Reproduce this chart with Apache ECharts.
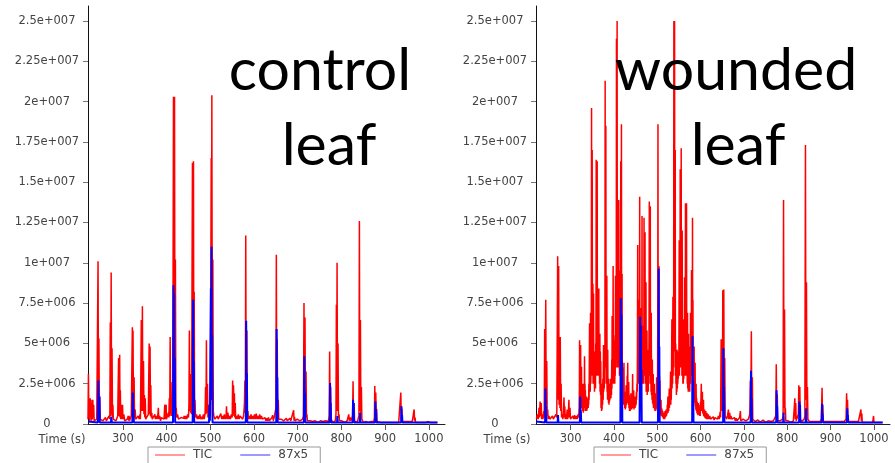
<!DOCTYPE html>
<html>
<head>
<meta charset="utf-8">
<script src="https://cdn.jsdelivr.net/npm/echarts@6/dist/echarts.min.js"></script>
<style>
  html, body { margin: 0; padding: 0; background: #fff; }
  #container { width: 895px; height: 463px; }
</style>
</head>
<body>
<div id="container"></div>
<script>
// values are in millions of counts, [time (s), intensity]
var ticControl = [
  [220,0.3],[221,3.1],[222,0.4],[223,1.5],[224,0.2],[225,1.6],[226,0.5],[227,0.8],[228,0.2],[229,1.5],[230,0.3],[231,1.5],[232,0.4],[233,1.2],[234,0.2],[236,0.3],[238,0.2],[240,0.3],[242,0.4],
  [243,10.1],[244,0.6],[245,5.3],[246,0.5],[247,1.7],[248,0.3],[250,0.2],[252,0.4],[254,0.2],[256,0.3],[258,0.2],[260,0.4],[262,0.2],[264,0.3],[266,0.2],[268,0.5],[270,0.3],
  [271,6.3],[272,0.5],[273,9.4],[274,0.6],[275,4.7],[276,0.4],[277,1.2],[278,0.3],[280,0.2],[282,0.4],[284,0.2],[286,0.3],[288,0.5],
  [290,4.1],[291,0.5],[292.5,4.3],[293.2,0.4],[294,2.1],[295,0.3],[297,1.2],[298,0.3],[299,1.2],[300,0.3],[302,0.6],[304,0.2],[306,0.3],[308,0.2],[310,0.3],[312,0.5],[313,0.2],[314,0.5],[315,0.2],[317,0.3],[319,0.5],
  [321.5,6.0],[322.3,0.5],[323,5.8],[324,0.6],[325.5,2.9],[326.5,0.4],[328,0.9],[329,0.3],[331,0.4],[333,0.3],[335,0.5],[337,0.3],[339,0.6],[340,0.3],
  [342,6.45],[343,0.8],[344.5,7.3],[345.5,0.8],[347,3.9],[348,0.6],[349,1.8],[350,0.4],[351,1.6],[352,0.3],[354,0.4],[356,0.3],[358,0.6],
  [360,5.0],[361,0.6],[362,4.8],[363,0.5],[363.8,2.4],[364.5,0.4],[366,0.7],[367,0.3],[369,0.4],[371,0.3],[373,0.6],[374,0.3],[376,0.5],[378,0.3],[380,0.6],[381,1.0],[382,0.3],[384,0.5],[386,0.2],[388,0.4],[390,0.3],[392,0.5],[394,0.3],
  [395.7,1.2],[396.5,0.3],[398.8,1.2],[399.5,0.3],[401,0.4],[403,0.3],[404,0.7],[405,0.4],[406,1.6],[407,0.5],[408,5.4],[409,0.6],[410,2.6],[411,0.5],[413,0.8],[414,0.6],
  [415.6,20.3],[416.4,1.0],[418,20.3],[419,1.2],[420,10.2],[421,0.8],[422,1.0],[423,0.4],[425,0.6],[427,0.3],[429,0.4],[431,0.3],[433,0.4],[435,0.3],[437,0.5],[439,0.35],[440,0.5],[442,0.3],[444,0.5],[446,0.3],[448,0.6],[449,0.65],[450,0.4],[451,1.2],
  [452,5.8],[453,0.8],[454,3.1],[455,0.7],[456,1.5],[457,0.6],[459,16.2],[460,1.5],[461.4,16.3],[462.2,1.2],[463,8.2],[464,0.8],[465,1.5],[466,0.4],[468,0.6],[470,0.3],[472,0.5],[474,0.3],[476,0.6],[478,0.3],[480,0.45],[482,0.3],[484,0.6],[486,0.3],[488,0.7],
  [489,2.3],[490,0.6],[491,5.2],[492,0.7],[493.5,2.5],[494.5,0.4],[496,0.6],[497,1.2],[498,0.5],[499,1.0],[500,0.6],[502,16.5],[502.7,1.5],[503.4,20.4],[504.5,2.0],[505.7,10.2],[506.7,0.8],
  [508,0.5],[510,0.3],[512,0.4],[514,0.3],[516,0.5],[518,0.3],[520,0.4],[522,0.3],[524,0.65],[526,0.3],[528,0.5],[530,0.3],[532,0.6],[534,0.3],[536,0.5],[537,1.1],[538,0.3],[540,0.7],[542,0.3],[544,0.5],[546,0.3],[548,0.6],[550,0.4],
  [551,2.7],[552,0.5],[553,2.4],[554,0.6],[555,1.9],[556,0.4],[557,1.3],[558,0.3],[560,0.5],[562,0.3],[564,0.6],[566,0.3],[568,0.5],[570,0.4],[572,0.6],[574,0.3],[576,0.5],[578,1.2],
  [579,2.7],[580,0.7],[581,11.7],[582,1.0],[583.6,5.8],[584.5,0.6],[586,0.8],[587,0.3],[589,0.5],[591,0.3],[593,0.6],[595,0.3],[597,0.5],[599,0.3],[601,0.6],[603,0.3],[605,0.65],[607,0.3],[609,0.5],[611,0.3],[613,0.6],[615,0.3],[617,0.5],[619,0.3],
  [621,0.4],[623,0.2],[625,0.4],[627,0.2],[629,0.35],[631,0.2],[633,0.4],[635,0.2],[637,0.3],[639,0.2],[641,0.4],[642.5,0.55],[644,0.2],[646,0.4],[648,0.3],[650,1.0],
  [651,10.5],[652,0.8],[653,5.25],[654,0.6],[655.5,1.5],[656.5,0.3],[658,0.4],[660,0.2],[662,0.3],[664,0.2],[666,0.35],[668,0.2],[670,0.3],[672,0.2],[674,0.35],[676,0.2],[678,0.3],[680,0.2],[682,0.35],[684,0.2],[686,0.3],[688,0.2],
  [690.6,0.85],[691.5,0.2],[692.5,0.45],[693.5,0.2],[695,0.3],[697,0.2],[699,0.3],[701,0.2],[703,0.3],[705,0.2],[707,0.3],[709,0.2],[711,0.3],[713,0.5],
  [714.3,7.5],[715.3,0.8],[716.6,6.6],[717.6,0.7],[719,3.25],[720,0.4],[721,0.6],[722,0.2],[724,0.25],[726,0.15],[728,0.2],[730,0.1],[732,0.2],[734,0.15],[736,0.25],[738,0.1],[740,0.2],[742,0.15],[744,0.2],[746,0.1],[748,0.2],[750,0.15],[752,0.2],[754,0.1],[756,0.2],[758,0.15],[760,0.25],[762,0.1],[764,0.2],[766,0.15],[768,0.2],[770,0.15],[772,0.5],
  [773,4.5],[774,0.5],[775.4,2.3],[776.5,0.3],[778,0.2],[780,0.1],[782,0.2],[784,0.15],[786,0.2],[787.5,0.6],[788.4,7.4],[789.2,0.8],[790,10.0],[791,0.8],[792.2,5.0],[793.2,0.4],[794.5,0.6],[795.5,0.2],
  [797,0.2],[799,0.1],[801,0.2],[803,0.1],[805,0.2],[807,0.1],[809,0.2],[811,0.15],[813,0.2],[815,0.3],[816.7,0.6],[818,0.2],[820,0.4],[822,0.2],[824,0.3],[825.5,0.5],[826.6,2.65],[827.6,0.3],[829,1.3],[830,0.2],[832,0.15],[834,0.2],[836,0.1],[838,0.2],[840,0.5],
  [841.1,12.6],[842,0.8],[843.4,6.45],[844.4,0.6],[845.7,2.3],[846.7,0.3],[848,0.2],[850,0.1],[852,0.15],[854,0.1],[856,0.15],[858,0.1],[860,0.15],[862,0.1],[864,0.15],[866,0.1],[868,0.15],[870,0.1],[872,0.2],[874,0.15],
  [875.5,0.4],[876.3,2.35],[877.3,0.4],[878.6,1.95],[879.5,0.3],[880.5,0.95],[881.5,0.15],[883,0.1],[886,0.15],[889,0.1],[892,0.15],[895,0.1],[898,0.15],[901,0.1],[904,0.15],[907,0.1],[910,0.15],[913,0.1],[916,0.15],[919,0.1],[922,0.15],[925,0.1],[928,0.15],[931,0.1],[934,0.2],
  [935.9,1.95],[937,0.3],[938.2,0.95],[939.2,0.15],[941,0.1],[944,0.15],[947,0.1],[950,0.15],[953,0.1],[956,0.15],[959,0.1],[962,0.15],[965,0.2],[966.4,0.9],[967.4,0.2],[968.6,0.4],[969.5,0.1],
  [972,0.15],[975,0.1],[978,0.15],[981,0.1],[984,0.15],[987,0.1],[990,0.15],[993,0.1],[996,0.1],[997.7,0.15],[999,0.1],[1003,0.1],[1008,0.1],[1013,0.1],[1019,0.1]
];

var ion87Control = [
  [220,0.15],[242.5,0.1],[243.7,2.7],[244.8,0.3],[246,1.7],[247,0.1],[272.5,0.1],[273.5,0.45],[274.5,0.1],
  [321.5,0.1],[322.4,1.95],[323.3,0.2],[324.2,0.95],[325,0.1],[414.5,0.1],[415.6,8.6],[416.3,1.0],[417,8.1],[418,1.0],[418.6,4.1],[419.5,0.1],
  [459.5,0.1],[460,2.8],[460.6,7.7],[461.3,1.0],[462,3.9],[463,0.1],[497,0.1],[498,1.2],[499,0.2],[500.5,0.1],[501.2,8.4],[502,1.5],[502.7,11.0],[503.4,1.5],[504,5.5],[505,0.1],
  [581,0.1],[581.5,1.7],[582,6.4],[582.8,1.0],[583.6,3.15],[584.5,0.1],[650.8,0.1],[651.7,5.9],[652.4,0.8],[653.2,2.9],[654,0.1],
  [714,0.1],[715,4.2],[715.8,0.8],[716.6,1.9],[717.5,0.1],[773.2,0.1],[774,2.55],[774.7,0.4],[775.4,1.3],[776.2,0.1],[790,0.1],[790.7,0.5],[791.4,0.1],
  [825.8,0.1],[826.6,1.5],[827.3,0.5],[828,1.3],[828.8,0.1],[842,0.1],[842.7,0.7],[843.4,0.1],[877,0.1],[877.8,1.4],[878.5,0.4],[879.3,0.9],[880,0.1],
  [936.6,0.1],[937.4,1.1],[938,0.4],[938.8,0.55],[939.5,0.1],[1020,0.1]
];

var ticWounded = [
  [221,0.3],[223,0.6],[225,0.3],[227,1.0],[228,0.4],[229.5,1.4],[230.5,0.5],[232,1.3],[233,0.3],[235,0.6],[236,0.3],[238,0.8],[239,0.4],
  [240,5.9],[241,1.0],[242.5,7.7],[243.5,1.2],[244.8,3.9],[245.8,0.5],[247,0.9],[248,0.3],[250,0.5],[252,0.3],[254,0.4],[256,0.3],[258,0.5],[260,0.3],[262,0.4],[264,0.3],[266,0.6],[268,0.4],
  [270,10.4],[271,1.5],[272.3,9.8],[273.3,1.2],[274.6,4.8],[275.3,1.0],[276,5.4],[277,0.8],[278,2.5],[279,0.4],[281,0.6],[282,0.3],[283.5,0.9],[284.6,1.65],[285.5,0.4],[286.5,1.1],[287.5,0.3],[289,0.6],[290,0.3],[292,0.9],[293,0.3],[294.5,0.6],[296,1.5],[297,0.4],[298.5,1.0],[299.5,0.3],
  [301,0.4],[303,0.2],[305,0.5],[307,0.3],[309,0.55],[311,0.3],[313,0.5],[315,0.3],[317,0.6],[318.5,0.4],
  [319.5,1.0],[320.1,2.0],[320.6,5.2],[321.1,1.2],[321.6,2.5],[322.2,1.0],[323,4.9],[323.5,1.5],[324.1,3.0],[324.6,1.2],[325,3.55],[325.6,1.0],[326.2,2.0],[326.8,0.9],[327.5,2.5],[328,0.8],[328.6,1.5],[329.2,0.7],[329.8,1.8],[330.4,0.8],
  [331,2.5],[331.5,1.2],[332,4.2],[332.5,1.0],[333.1,2.5],[333.6,1.0],[334,2.1],[334.6,0.8],[335.2,1.5],[335.8,0.9],[336.3,1.7],[336.9,0.8],[337.5,1.4],[338.1,0.9],[338.7,1.6],[339.3,1.0],[339.8,1.4],
  [340.5,1.0],[341,1.7],[341.5,1.2],[342,2.5],[342.5,1.5],[343,3.5],[343.6,6.25],[344.1,2.0],[344.6,4.5],[345.2,2.0],[345.9,6.9],[346.4,2.5],[346.9,4.0],[347.5,3.0],[348.2,19.6],[348.8,3.5],[349.2,7.5],[349.7,17.0],[350.2,3.0],[350.7,6.0],
  [351.3,8.7],[351.8,2.5],[352.3,5.0],[352.8,8.1],[353.3,2.5],[353.9,4.0],[354.5,3.5],[355,2.0],[355.6,4.5],[356.2,2.5],[356.8,3.8],[357.3,2.2],[357.8,5.0],[358.4,3.0],[358.9,16.4],[359.4,3.5],[359.9,6.5],[360.5,3.0],
  [361.2,16.3],[361.7,3.5],[362.2,7.0],[362.8,8.2],[363.3,3.0],[363.9,6.0],[364.4,3.0],[365,8.4],[365.5,3.0],[366,5.5],[366.7,2.5],[367.4,5.6],[367.9,2.0],[368.5,4.5],[369,1.8],[369.5,3.9],[370.1,1.0],[370.7,1.8],
  [371.3,0.8],[371.9,1.5],[372.5,0.9],[373.1,2.5],[373.7,1.2],[374.3,2.8],[375,1.5],[375.8,4.9],[376.3,2.0],[376.9,3.5],[377.5,2.2],[378,4.0],[378.6,2.5],[379.1,5.0],[379.6,21.3],[380.1,4.0],[380.7,8.0],
  [381.2,18.5],[381.7,3.5],[382.3,6.0],[382.9,2.5],[383.5,9.2],[384,2.0],[384.6,3.5],[385.1,1.5],[385.6,4.6],[386.2,1.5],[386.8,2.8],[387.3,1.3],[387.9,2.1],[388.5,1.2],[389,2.5],[389.6,1.4],[390.2,2.1],[390.7,1.5],
  [391.3,2.8],[391.9,1.6],[392.5,2.0],[393,1.6],[393.6,2.4],[394.2,1.8],[394.8,4.0],[395.3,2.2],[395.7,6.7],[396.2,2.5],[396.8,4.5],[397.4,2.5],[398,9.8],[398.5,3.0],[399,5.5],[399.6,2.5],[400.3,5.2],[400.8,2.5],
  [401.3,4.2],[401.8,2.5],[402.3,4.0],[402.8,3.0],[403.4,9.2],[403.9,3.5],[404.5,7.0],[405.1,3.5],[405.7,23.9],[406.2,4.0],[406.7,9.0],[407.2,25.0],[407.7,4.5],[408.2,8.0],[408.8,3.5],[409.5,12.6],[410,3.5],[410.5,8.0],
  [411,13.9],[411.5,3.5],[412,7.0],[412.6,3.0],[413.2,9.5],[413.8,3.0],[414.4,6.0],[415,3.0],[415.6,16.3],[416.1,3.5],[416.6,8.0],[417.2,18.6],[417.7,3.0],[418.2,6.0],[418.7,9.3],[419.2,2.0],[419.8,3.5],[420.3,1.5],
  [420.8,2.7],[421.4,1.2],[422,2.2],[422.5,1.5],[423,3.8],[423.6,1.2],[424.2,2.0],[424.8,1.0],[425.5,1.9],[426.1,0.9],[426.7,1.6],[427.3,1.0],[428,2.4],[428.6,1.2],[429.2,2.0],[429.8,1.3],[430.5,3.0],[431.1,2.0],
  [431.7,3.8],[432.2,1.5],[432.8,2.3],[433.4,1.2],[434,2.6],[434.6,1.0],[435.2,1.8],[435.8,0.8],[436.5,1.5],[437.1,0.8],[437.7,1.2],[438.3,0.9],[439,1.9],[439.6,0.9],[440.2,1.4],[440.8,0.9],
  [441.5,1.5],[442.1,1.1],[442.6,2.0],[443,3.1],[443.6,1.0],[444.2,1.6],[444.8,1.0],[445.5,2.1],[446.1,0.9],[446.7,1.4],[447.3,1.0],[448,1.7],[448.6,1.0],[449.2,1.4],[449.8,1.1],[450.5,1.5],
  [451.1,1.2],[451.7,2.0],[452.3,1.5],[453,2.5],[453.6,2.0],[454.1,4.5],[454.7,11.1],[455.2,3.0],[455.7,5.0],[456.3,2.5],[457,7.7],[457.5,2.5],[458,5.0],[458.6,3.0],[459.3,14.1],[459.8,3.0],[460.4,5.5],
  [461,6.7],[461.5,2.5],[462,5.0],[462.4,7.2],[462.9,2.5],[463.5,4.5],[464.1,3.0],[464.7,12.9],[465.2,3.0],[465.8,6.1],[466.4,2.5],[467,4.5],[467.6,2.5],[468.3,5.0],[468.8,3.0],[469.3,12.8],[469.8,3.0],[470.4,6.0],
  [471,3.0],[471.6,11.9],[472.1,2.5],[472.7,5.5],[473.3,2.5],[473.8,8.8],[474.3,2.0],[474.9,4.0],[475.5,2.0],[476,5.8],[476.6,1.8],[477.2,3.2],[477.8,2.0],[478.5,4.6],[479,2.0],[479.6,3.5],[480.2,2.5],[480.9,5.5],
  [481.5,13.8],[482,3.0],[482.6,6.0],[483.2,3.0],[483.8,13.5],[484.3,2.5],[484.9,5.0],[485.5,2.0],[486,6.9],[486.6,1.8],[487.2,3.5],[487.8,1.5],[488.5,4.0],[489,1.3],[489.6,2.5],[490.1,1.2],
  [490.5,3.1],[491.1,1.0],[491.7,2.0],[492.3,1.0],[493,2.5],[493.6,0.9],[494.2,1.6],[494.8,0.8],[495.5,1.9],[496.1,0.8],[496.7,1.3],[497.3,0.9],[497.9,2.0],[498.4,2.9],[499,1.0],[499.6,1.8],[500.1,1.0],
  [500.6,3.0],[501,6.0],[501.5,18.6],[502,3.0],[502.6,5.0],[503.2,2.5],[503.8,9.8],[504.3,1.5],[504.9,3.0],[505.5,1.0],[506,2.7],[506.6,0.7],[507.2,1.5],[507.8,0.6],[508.5,1.5],[509.1,0.5],[509.8,1.0],[510.4,0.5],
  [511,0.9],[511.7,0.4],[512.4,0.8],[513,0.4],[513.7,0.65],[514.4,0.3],[515,0.7],[515.7,0.35],[516.4,0.6],[517,0.3],[517.7,0.8],[518.4,0.4],[519,0.7],[519.7,0.45],[520.3,0.9],[521,0.5],[521.7,0.8],[522.3,0.6],
  [523,1.2],[523.6,0.7],[524.4,1.7],[525,0.7],[525.6,1.2],[526.2,0.8],[526.8,1.5],[527.5,2.2],[528,1.0],[528.6,1.6],[529.2,1.2],[529.8,2.0],[530.6,3.25],[531.1,1.2],[531.7,2.3],[532.2,1.5],[532.8,3.0],
  [533.6,6.5],[534.1,2.2],[534.7,4.5],[535.3,2.5],[536,7.9],[536.5,3.0],[537,6.0],[537.6,3.5],[538.2,25.0],[538.7,5.0],[539.3,9.0],[539.8,25.0],[540.3,4.5],[540.8,8.0],[541.3,17.0],[541.8,3.0],[542.4,5.0],[543,2.5],
  [543.5,3.5],[544,1.8],[544.6,3.0],[545.1,2.0],[545.6,4.6],[546.1,2.2],[546.7,3.2],[547.3,2.5],[547.9,3.5],[548.5,2.8],[549,4.5],[549.6,3.0],[550,6.0],[550.5,11.4],[551,3.0],[551.6,6.0],[552.2,3.5],
  [552.8,15.8],[553.3,3.5],[553.9,7.5],[554.5,3.5],[555.1,17.1],[555.6,3.5],[556.2,7.0],[556.8,3.0],[557.4,12.0],[557.9,3.0],[558.5,5.5],[559,2.5],[559.5,6.5],[560,2.5],[560.6,4.5],[561.2,2.8],[561.8,5.0],[562.3,3.0],
  [562.8,9.1],[563.3,3.0],[563.9,6.0],[564.5,3.0],[565,13.7],[565.5,3.5],[566.1,7.0],[566.7,3.0],[567.4,13.7],[567.9,3.0],[568.5,6.0],[569.1,2.5],[569.7,6.9],[570.2,2.2],[570.8,4.5],[571.4,2.0],
  [572,5.6],[572.5,2.0],[573.1,3.8],[573.7,2.0],[574.3,4.8],[574.8,2.0],[575.4,4.0],[576,2.5],[576.5,6.9],[577,2.5],[577.6,5.0],[578.2,3.0],[578.9,9.55],[579.4,3.0],[580,6.0],[580.6,3.0],
  [581.2,12.8],[581.7,3.0],[582.2,7.7],[582.8,2.0],[583.4,4.5],[584,1.5],[584.5,3.5],[585,4.8],[585.5,1.5],[586.1,3.0],[586.6,1.3],[587.2,3.8],[587.7,1.1],[588.3,2.2],[588.9,0.9],[589.5,2.5],[590.1,0.8],[590.7,1.6],
  [591.3,0.7],[592,1.4],[592.6,0.6],[593.2,1.1],[593.8,0.55],[594.5,1.3],[595.1,0.6],[595.7,1.2],[596.3,0.6],[597,0.9],[597.7,0.5],[598.4,1.0],[599,0.5],[599.7,1.4],[600.3,0.8],[600.9,1.8],
  [601.5,2.5],[602.1,0.9],[602.7,1.5],[603.3,0.8],[604,2.0],[604.6,0.7],[605.2,1.2],[605.8,0.6],[606.5,1.5],[607.1,0.5],[607.7,0.9],[608.3,0.45],[609,0.9],[609.7,0.4],[610.4,0.7],[611,0.35],
  [611.7,0.8],[612.4,0.35],[613.1,0.6],[613.8,0.3],[614.5,0.7],[615.2,0.3],[616,0.6],[616.8,0.3],[617.6,0.6],[618.4,0.3],[619.2,0.5],[620,0.3],
  [621,0.5],[623,0.3],[625,0.4],[627,0.3],[629,0.45],[631,0.25],[633,0.4],[635,0.3],[637,0.4],[639,0.3],[641,0.5],[643,0.3],[645,0.75],[646,0.4],
  [647.3,5.25],[648.2,0.8],[649.2,2.55],[650.2,0.8],[651.1,8.3],[652,1.2],[653.4,8.35],[654.3,1.0],[655.6,4.1],[656.5,0.5],[658,0.6],[660,0.3],[662,0.5],[664.1,0.9],[665,0.3],[667,0.7],[668.5,0.3],[670,0.5],[672,0.3],[674,0.4],[676,0.3],[678,0.4],[680,0.2],[682,0.35],[684,0.2],[686,0.3],[688,0.2],[690,0.4],[691.7,0.8],[692.7,0.2],
  [694,0.3],[696,0.2],[698,0.3],[700,0.2],[702,0.3],[704,0.2],[706,0.25],[708,0.2],[710,0.3],[712,0.2],[713.5,0.6],[714.7,2.7],[715.7,0.8],[717,5.75],[718,0.8],[719.3,2.9],[720.3,0.3],
  [722,0.2],[724,0.3],[726,0.15],[728,0.2],[730,0.15],[732,0.25],[734,0.15],[736,0.2],[738,0.1],[740,0.2],[742,0.15],[744,0.25],[746,0.15],[748,0.2],[750,0.1],[752,0.2],[754,0.15],[756,0.2],[758,0.1],[760,0.2],[762,0.15],[764,0.2],[766,0.1],[768,0.2],[770,0.15],[772,0.3],
  [773.5,0.5],[774.5,3.7],[775.5,0.5],[776.8,1.85],[777.8,0.2],[779,0.2],[781,0.1],[783,0.2],[785,0.15],[787,0.2],[789,0.3],[790.3,0.5],[791.3,13.9],[792.2,1.0],[793.6,7.1],[794.6,0.6],[795.5,1.0],[796.5,0.2],
  [798,0.2],[800,0.1],[802,0.2],[804,0.1],[806,0.2],[808,0.1],[810,0.2],[812,0.15],[814,0.2],[816,0.3],[817.4,1.6],[818.4,0.3],[819.5,1.3],[820.5,0.2],[822,0.2],[824,0.3],[825.5,0.6],[826.6,2.4],[827.6,0.6],[828.9,2.3],[829.9,0.3],
  [831,0.2],[833,0.15],[835,0.2],[837,0.15],[839,0.3],[840.5,0.5],[841.9,17.3],[843,1.5],[844.2,8.8],[845.2,0.8],[846.5,2.3],[847.5,0.3],[849,0.2],[851,0.15],[853,0.2],[855,0.1],[858,0.15],[861,0.1],[864,0.15],[867,0.1],[870,0.15],[873,0.1],[876,0.15],
  [878.5,0.3],[880.2,2.25],[881.2,0.5],[882,1.2],[883,0.15],[886,0.1],[889,0.15],[892,0.1],[895,0.15],[898,0.1],[901,0.15],[904,0.1],[907,0.15],[910,0.1],[913,0.15],[916,0.1],[919,0.15],[922,0.1],[925,0.15],[928,0.1],[931,0.15],[934,0.2],
  [935.5,0.3],[936.9,1.9],[937.9,0.4],[939,1.5],[940,0.15],[943,0.1],[946,0.15],[949,0.1],[952,0.15],[955,0.1],[958,0.15],[961,0.1],[964,0.15],[967,0.2],[968.5,0.2],[969.9,0.9],[970.9,0.2],[972,0.65],[973,0.1],
  [976,0.15],[979,0.1],[982,0.15],[985,0.1],[988,0.15],[991,0.1],[994,0.15],[997,0.1],[998,0.1],[999,0.5],[1000,0.1],[1005,0.1],[1010,0.1],[1015,0.1],[1020,0.1]
];

var ion87Wounded = [
  [220,0.15],[241,0.1],[241.7,2.2],[242.4,0.3],[243,1.1],[244,0.1],[270,0.1],[270.8,0.55],[271.6,0.1],
  [321.2,0.1],[322,1.7],[322.7,0.3],[323.5,0.85],[324.3,0.1],[414.8,0.1],[415.6,7.8],[416.3,1.0],[417,6.8],[417.8,1.0],[418.4,3.9],[419.2,0.1],
  [459,0.1],[459.6,3.5],[460.3,6.65],[461,1.0],[461.8,6.1],[462.5,0.8],[463.3,3.35],[464,0.1],[501.5,0.1],[502,2.9],[502.6,0.6],[503.2,9.65],[503.9,1.2],[504.6,4.8],[505.4,0.1],
  [580.4,0.1],[581.2,5.45],[581.9,1.0],[582.7,2.7],[583.5,0.1],[651.8,0.1],[652.6,4.7],[653.3,0.8],[654,2.3],[654.8,0.1],
  [715.4,0.1],[716.2,3.3],[716.9,0.6],[717.6,1.6],[718.4,0.1],[774.4,0.1],[775.2,2.1],[775.9,0.4],[776.6,1.1],[777.4,0.1],[790.5,0.1],[791.3,0.7],[792,0.1],
  [827.2,0.1],[828,1.4],[828.7,0.5],[829.4,1.2],[830.2,0.1],[842.6,0.1],[843.4,0.97],[844.2,0.1],[879.4,0.1],[880.2,1.25],[880.9,0.4],[881.6,0.6],[882.4,0.1],
  [937.6,0.1],[938.4,0.97],[939.1,0.4],[939.8,0.55],[940.6,0.1],[1020,0.1]
];

var xTickValues = [300, 400, 500, 600, 700, 800, 900, 1000];
var yTickValues = [0, 2.5e6, 5e6, 7.5e6, 1e7, 1.25e7, 1.5e7, 1.75e7, 2e7, 2.25e7, 2.5e7];
var yTickLabels = ['0', '2.5e+006', '5e+006', '7.5e+006', '1e+007', '1.25e+007', '1.5e+007', '1.75e+007', '2e+007', '2.25e+007', '2.5e+007'];
var panelTitles = [['control', 'leaf'], ['wounded', 'leaf']];
var seriesNames = ['TIC', '87x5'];

var dom = document.getElementById('container');
var myChart = echarts.init(dom, null, { renderer: 'canvas' });

function toCounts(arr) {
  return arr.map(function (p) { return [p[0], p[1] * 1e6]; });
}

var labelFont = 'DejaVu Sans';

var xAxes = [0, 1].map(function (i) {
  return {
    gridIndex: i,
    type: 'value',
    min: 220,
    max: 1037,
    axisLine: { lineStyle: { color: '#222', width: 1 } },
    axisTick: { customValues: xTickValues, length: 6, lineStyle: { color: '#555' } },
    axisLabel: {
      customValues: xTickValues,
      margin: 9,
      color: '#444',
      fontSize: 11.5,
      fontFamily: labelFont,
      formatter: function (v) { return String(v); }
    },
    splitLine: { show: false }
  };
});

var yAxes = [0, 1].map(function (i) {
  return {
    gridIndex: i,
    type: 'value',
    min: 0,
    max: 2.593e7,
    axisLine: { show: true, lineStyle: { color: '#111', width: 1 } },
    axisTick: { show: true, customValues: yTickValues, length: 5, lineStyle: { color: '#777' } },
    axisLabel: {
      customValues: yTickValues,
      margin: 41,
      align: 'center',
      color: '#444',
      fontSize: 11.5,
      fontFamily: labelFont,
      formatter: function (v) {
        var k = yTickValues.indexOf(v);
        return k >= 0 ? yTickLabels[k] : '';
      }
    },
    splitLine: { show: false }
  };
});

function lineSeries(name, data, idx, color, width) {
  return {
    name: name,
    type: 'line',
    xAxisIndex: idx,
    yAxisIndex: idx,
    data: toCounts(data),
    showSymbol: false,
    symbol: 'none',
    sampling: null,
    lineStyle: { color: color, width: width },
    itemStyle: { color: color },
    emphasis: { disabled: true }
  };
}

var legends = [148, 594].map(function (left) {
  return {
    left: left,
    top: 447,
    orient: 'horizontal',
    icon: 'rect',
    itemWidth: 30,
    itemHeight: 1.5,
    itemGap: 28,
    padding: [2, 12, 10, 7],
    borderColor: '#999',
    borderWidth: 1,
    textStyle: { color: '#444', fontSize: 12, fontFamily: labelFont, padding: [0, 0, 0, 3] },
    data: [
      { name: seriesNames[0], itemStyle: { color: '#ff7a7a' } },
      { name: seriesNames[1], itemStyle: { color: '#7a7aff' } }
    ]
  };
});

var titleGraphics = [];
var titleCenters = [[320, 329], [736, 738]];
panelTitles.forEach(function (words, i) {
  words.forEach(function (w, j) {
    titleGraphics.push({
      type: 'text',
      z: 100,
      style: {
        text: w,
        x: titleCenters[i][j],
        y: 71 + j * 75,
        fill: '#000',
        fontSize: 59,
        fontFamily: 'Lato',
        textAlign: 'center',
        textVerticalAlign: 'middle'
      }
    });
  });
});
[62, 507].forEach(function (x) {
  titleGraphics.push({
    type: 'text',
    z: 100,
    style: {
      text: 'Time (s)',
      x: x,
      y: 440,
      fill: '#444',
      fontSize: 11.5,
      fontFamily: labelFont,
      textAlign: 'center',
      textVerticalAlign: 'middle'
    }
  });
});

var option = {
  animation: false,
  backgroundColor: '#fff',
  grid: [
    { left: 88, right: 450, top: 6, bottom: 39 },
    { left: 536, right: 5, top: 6, bottom: 39 }
  ],
  xAxis: xAxes,
  yAxis: yAxes,
  legend: legends,
  graphic: titleGraphics,
  series: [
    lineSeries(seriesNames[0], ticControl, 0, '#ff0000', 1.5),
    lineSeries(seriesNames[1], ion87Control, 0, '#0000ff', 2),
    lineSeries(seriesNames[0], ticWounded, 1, '#ff0000', 1.5),
    lineSeries(seriesNames[1], ion87Wounded, 1, '#0000ff', 2)
  ]
};

myChart.setOption(option);
window.addEventListener('resize', myChart.resize);
</script>
</body>
</html>
